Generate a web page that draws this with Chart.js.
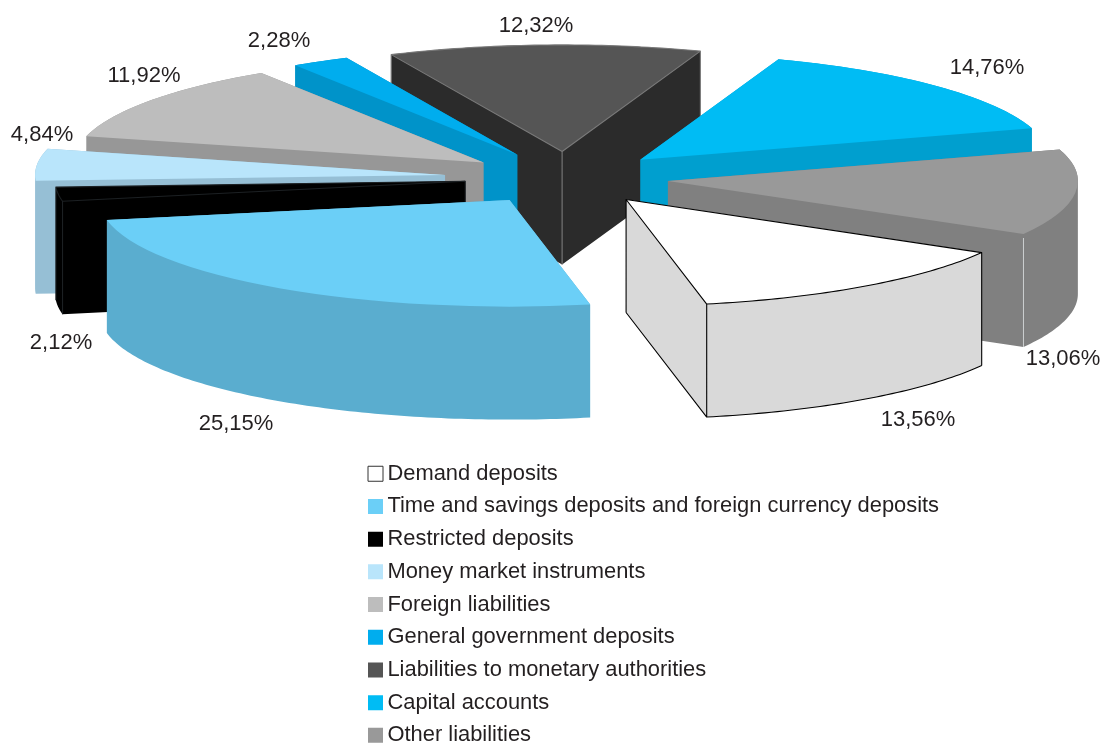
<!DOCTYPE html>
<html><head><meta charset="utf-8">
<style>html,body{margin:0;padding:0;background:#fff}canvas{display:block}</style>
<script src="https://cdn.jsdelivr.net/npm/chart.js@4"></script>
</head><body>
<canvas id="c" width="1103" height="743"></canvas>
<script>
const categories = ["Demand deposits","Time and savings deposits and foreign currency deposits","Restricted deposits","Money market instruments","Foreign liabilities","General government deposits","Liabilities to monetary authorities","Capital accounts","Other liabilities"];
const values = [13.56,25.15,2.12,4.84,11.92,2.28,12.32,14.76,13.06];
const topColors = ["#ffffff","#6bcff7","#000000","#b9e5fb","#bdbdbd","#00adee","#555555","#00bcf4","#999999"];
const wallColors = ["#d9d9d9","#5aadcf","#000000","#96bfd5","#979797","#0093c9","#2b2b2b","#009fcf","#808080"];
const edgeColors = ["#000000",null,"#1c2023",null,null,null,"#7a7a7a",null,null];
const seamColors = [null,null,null,null,null,null,null,null,"#dfe3e5"];
const explodeBy = [102,102,102,122,102,102,102,102,102];
const drawOrder = [6,5,7,4,8,3,2,0,1];
const labelCenters = [[918,420],[236,424],[61,343],[42,135],[144,76],[279,41],[536,26],[987,68],[1063,359]];
const textColor = "#231f20";
const fontFamily = '"Liberation Sans", Arial, sans-serif';
const G = {cx:566.5, cy:178, squash:0.26, depth:113, radius:410, rotation:119.85};

function slicePoints(arc,explode){
  const mid=(arc.startAngle+arc.endAngle)/2;
  const ox=G.cx+Math.cos(mid)*explode, oy=G.cy+Math.sin(mid)*explode*G.squash;
  const r=arc.outerRadius, n=Math.max(4,Math.ceil((arc.endAngle-arc.startAngle)*60));
  const arcPts=[];
  for(let i=0;i<=n;i++){
    const a=arc.startAngle+(arc.endAngle-arc.startAngle)*i/n;
    arcPts.push([ox+Math.cos(a)*r, oy+Math.sin(a)*r*G.squash]);
  }
  return {apex:[ox,oy],arcPts,mid};
}
function drawWall(ctx,pts,color){
  const poly=[pts.apex,...pts.arcPts];
  const d=G.depth;
  ctx.beginPath();
  for(let i=0;i<poly.length;i++){
    const a=poly[i], b=poly[(i+1)%poly.length];
    const q=(b[0]-a[0])>=0 ? [a,b,[b[0],b[1]+d],[a[0],a[1]+d]] : [b,a,[a[0],a[1]+d],[b[0],b[1]+d]];
    ctx.moveTo(q[0][0],q[0][1]);
    for(let k=1;k<4;k++) ctx.lineTo(q[k][0],q[k][1]);
    ctx.closePath();
  }
  ctx.fillStyle=color;
  ctx.fill("nonzero");
}
function drawEdges(ctx,pts,color,withBottom){
  const d=G.depth, A=pts.arcPts, first=A[0], last=A[A.length-1], ap=pts.apex;
  ctx.save();
  ctx.strokeStyle=color; ctx.lineWidth=1.1; ctx.lineJoin="round";
  ctx.beginPath();
  ctx.moveTo(ap[0],ap[1]);
  A.forEach(p=>ctx.lineTo(p[0],p[1]));
  ctx.closePath();
  [ap,first,last].forEach(p=>{ctx.moveTo(p[0],p[1]);ctx.lineTo(p[0],p[1]+d);});
  if(withBottom){
    ctx.moveTo(ap[0],ap[1]+d);
    ctx.lineTo(last[0],last[1]+d);
    for(let i=A.length-2;i>=0;i--) ctx.lineTo(A[i][0],A[i][1]+d);
  }
  ctx.stroke();
  ctx.restore();
}
function drawSeam(ctx,pts,color){
  const last=pts.arcPts[pts.arcPts.length-1];
  ctx.save();
  ctx.strokeStyle=color; ctx.lineWidth=0.8;
  ctx.beginPath();
  ctx.moveTo(last[0],last[1]+4);
  ctx.lineTo(last[0],last[1]+G.depth);
  ctx.stroke();
  ctx.restore();
}
const pie3d={
  id:"pie3d",
  afterLayout(chart){
    const l=chart.legend;
    l.left=363.7; l.top=452; l.right=1103; l.bottom=900;
  },
  beforeDatasetDraw(chart,args){
    const ctx=chart.ctx, arcs=args.meta.data;
    drawOrder.forEach(i=>{
      const arc=arcs[i], pts=slicePoints(arc,explodeBy[i]);
      drawWall(ctx,pts,wallColors[i]);
      ctx.save();
      ctx.translate(pts.apex[0],pts.apex[1]);
      ctx.scale(1,G.squash);
      ctx.translate(-arc.x,-arc.y);
      arc.draw(ctx);
      ctx.restore();
      if(edgeColors[i]) drawEdges(ctx,pts,edgeColors[i],i===0);
      if(seamColors[i]) drawSeam(ctx,pts,seamColors[i]);
    });
    return false;
  },
  afterDraw(chart){
    const ctx=chart.ctx;
    ctx.save();
    ctx.font='22px '+fontFamily;
    ctx.fillStyle=textColor;
    ctx.textAlign="center"; ctx.textBaseline="middle";
    values.forEach((v,i)=>{
      ctx.fillText(v.toFixed(2).replace(".",",")+"%",labelCenters[i][0],labelCenters[i][1]);
    });
    ctx.restore();
  }
};
new Chart(document.getElementById("c"),{
  type:"pie",
  data:{labels:categories,datasets:[{data:values,backgroundColor:topColors,borderWidth:0,clip:false}]},
  plugins:[pie3d],
  options:{
    responsive:false,animation:false,rotation:G.rotation,radius:G.radius,
    layout:{padding:0},
    plugins:{
      tooltip:{enabled:false},
      legend:{
        display:true,position:"chartArea",align:"start",
        labels:{
          usePointStyle:true,boxWidth:2,boxHeight:15,padding:10.8,
          font:{family:fontFamily,size:21.9},color:textColor,
          generateLabels(){
            return categories.map((t,i)=>({text:t,fillStyle:topColors[i],strokeStyle:i===0?"#333":topColors[i],lineWidth:i===0?1:0,pointStyle:"rect",fontColor:textColor,index:i,hidden:false}));
          }
        }
      }
    }
  }
});
</script>
</body></html>
